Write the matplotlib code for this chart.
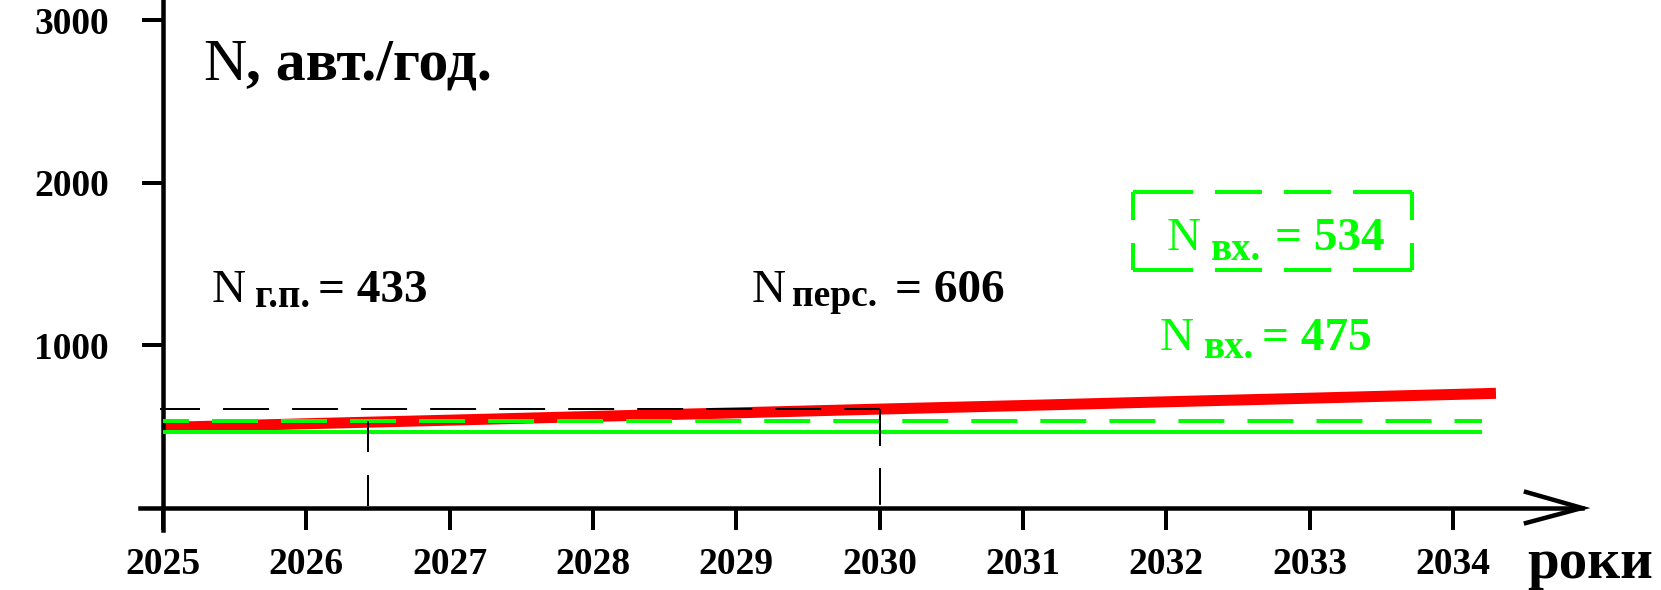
"""Traffic growth chart: N, cars/year for 2025-2034."""

import matplotlib
matplotlib.use("Agg")
import matplotlib.pyplot as plt
from matplotlib.lines import Line2D
from matplotlib.transforms import IdentityTransform

W, H = 1661, 590

years = [2025, 2026, 2027, 2028, 2029, 2030, 2031, 2032, 2033, 2034]
red_years = [2025, 2026, 2027, 2028, 2029, 2030, 2031, 2032, 2033, 2034, 2034.3]
red_values = [495, 518, 540, 563, 585, 608, 630, 653, 675, 698, 705]
green_span = [2025, 2034.2]
n_in_box = 534
n_in = 465
n_pers = 606
year_gp = 2026.43
year_pers = 2030
y_ticks = [1000, 2000, 3000]

GREEN = "#00ff00"
RED = "#ff0000"
PT = 0.72  # points per pixel at dpi 100

plt.rcParams["font.family"] = ["Liberation Serif", "DejaVu Serif"]
plt.rcParams["lines.scale_dashes"] = False

fig = plt.figure(figsize=(W / 100, H / 100), dpi=100)
ax = fig.add_axes([0, 0, 1, 1])

# pixel <-> data mapping: 2025 at x=163, 143.33 px/year; 0 at y=508 (from top)
px_year = 143.33
px_unit = 488 / 3000
ax.set_xlim(2025 - 163 / px_year, 2025 + (W - 163) / px_year)
ax.set_ylim(-(H - 508) / px_unit, 508 / px_unit)
ax.patch.set_visible(False)

# axes as spines
for side in ("top", "right"):
    ax.spines[side].set_visible(False)
ax.spines["left"].set_position(("data", 2025))
ax.spines["left"].set_bounds(-22 / px_unit, 508 / px_unit)
ax.spines["bottom"].set_position(("data", 0))
x_end = 2025 + (1582 - 163) / px_year
ax.spines["bottom"].set_bounds(2025 - 23 / px_year, x_end)
for side in ("left", "bottom"):
    ax.spines[side].set_linewidth(4.5 * PT)

ax.set_xticks(years)
ax.set_yticks(y_ticks)
ax.tick_params(axis="x", direction="out", length=22 * PT, width=4 * PT, pad=12,
               labelsize=27)
ax.tick_params(axis="y", direction="out", length=21 * PT, width=4 * PT, pad=24,
               labelsize=27)
for lab in ax.get_xticklabels() + ax.get_yticklabels():
    lab.set_fontweight("bold")

# arrow head on the x axis
head_dx = 56 / px_year
ax.plot([x_end - head_dx, x_end, x_end - head_dx], [16 / px_unit, 0, -15 / px_unit],
        color="black", lw=4.5 * PT, solid_joinstyle="miter", clip_on=False)

# data lines
ax.plot(red_years, red_values, color=RED, lw=11 * PT, solid_capstyle="butt", zorder=2)
ax.plot(green_span, [n_in, n_in], color=GREEN, lw=4 * PT, solid_capstyle="butt", zorder=3)
ax.plot(green_span, [n_in_box, n_in_box], color=GREEN, lw=4 * PT,
        ls=(14.4, (33.1, 16.6)), dash_capstyle="butt", zorder=3)
ax.plot([2025 - 3 / px_year, year_pers], [n_pers, n_pers], color="black", lw=2 * PT,
        ls=(4.3, (33.1, 16.6)), zorder=4)
ax.plot([year_gp, year_gp], [n_in_box, 0], color="black", lw=2 * PT,
        ls=(0, (22.3, 16.6)), zorder=4)
ax.plot([year_pers, year_pers], [n_pers, 0], color="black", lw=2 * PT,
        ls=(0, (26.6, 15.8)), zorder=4)

renderer = fig.canvas.get_renderer()


def rich_text(x, y, parts, color="black"):
    """Lay out text pieces left to right from pixel x, baseline y (from top).

    dy > 0 drops a piece below the baseline (subscript)."""
    for text, size, weight, dy, gap in parts:
        x += gap
        t = fig.text(x, H - y - dy, text, transform=IdentityTransform(), fontsize=size,
                     fontweight=weight, color=color, ha="left", va="baseline")
        x += t.get_window_extent(renderer).width


rich_text(203, 80, [("N", 43, "normal", 0, 0), (", авт./год.", 43, "bold", 0, 0)])
rich_text(212, 302, [("N", 34, "normal", 0, 0), ("г.п.", 28, "bold", 5, 9),
                     ("= 433", 34, "bold", 0, 8)])
rich_text(752, 302, [("N", 34, "normal", 0, 0), ("перс.", 27, "bold", 4, 6),
                     ("= 606", 34, "bold", 0, 18)])
rich_text(1167, 250, [("N", 34, "normal", 0, 0), ("вх.", 28, "bold", 10, 10),
                      ("= 534", 34, "bold", 0, 14)], color=GREEN)
rich_text(1160, 350, [("N", 34, "normal", 0, 0), ("вх.", 28, "bold", 8, 10),
                      ("= 475", 34, "bold", 0, 8)], color=GREEN)
fig.text(1527, H - 578, "роки", transform=IdentityTransform(), fontsize=41,
         fontweight="bold", ha="left", va="baseline")

# dashed frame around the projected value
box_l, box_r, box_t, box_b = 1133, 1412, 192, 270
h_dash = (0, tuple(v * PT for v in (60, 22, 47, 22, 47, 22, 60, 10)))
v_dash = (0, tuple(v * PT for v in (28, 23, 28, 10)))
for xs, ys, ls in [((box_l, box_r), (box_t, box_t), h_dash),
                   ((box_l, box_r), (box_b, box_b), h_dash),
                   ((box_l, box_l), (box_t, box_b), v_dash),
                   ((box_r, box_r), (box_t, box_b), v_dash)]:
    fig.add_artist(Line2D(xs, [H - v for v in ys], transform=IdentityTransform(),
                          color=GREEN, lw=4 * PT, linestyle=ls, dash_capstyle="butt"))

fig.savefig("out.png", dpi=100)
